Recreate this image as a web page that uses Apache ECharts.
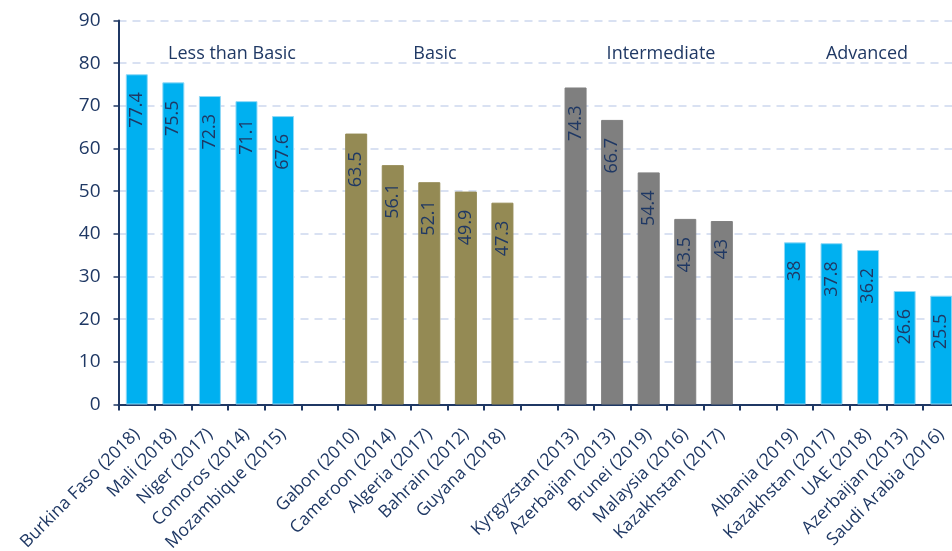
<!DOCTYPE html>
<html>
<head>
<meta charset="utf-8">
<script src="https://cdn.jsdelivr.net/npm/echarts@6/dist/echarts.min.js"></script>
<style>
  html, body { margin: 0; padding: 0; background: #ffffff; }
  #chart { width: 952px; height: 551px; }
</style>
</head>
<body>
<div id="chart"></div>
<script>
// Proficiency groups, each with five countries (survey year in brackets)
const groupNames = ['Less than Basic', 'Basic', 'Intermediate', 'Advanced'];
const lessThanBasicCountries = ['Burkina Faso (2018)', 'Mali (2018)', 'Niger (2017)', 'Comoros (2014)', 'Mozambique (2015)'];
const lessThanBasicValues = [77.4, 75.5, 72.3, 71.1, 67.6];
const basicCountries = ['Gabon (2010)', 'Cameroon (2014)', 'Algeria (2017)', 'Bahrain (2012)', 'Guyana (2018)'];
const basicValues = [63.5, 56.1, 52.1, 49.9, 47.3];
const intermediateCountries = ['Kyrgyzstan (2013)', 'Azerbaijan (2013)', 'Brunei (2019)', 'Malaysia (2016)', 'Kazakhstan (2017)'];
const intermediateValues = [74.3, 66.7, 54.4, 43.5, 43];
const advancedCountries = ['Albania (2019)', 'Kazakhstan (2017)', 'UAE (2018)', 'Azerbaijan (2013)', 'Saudi Arabia (2016)'];
const advancedValues = [38, 37.8, 36.2, 26.6, 25.5];
const yTicks = [0, 10, 20, 30, 40, 50, 60, 70, 80, 90];

const groupColors = ['#00B0F0', '#948A54', '#7F7F7F', '#00B0F0'];
const navy = '#1F3864';
const fontFamily = '"Open Sans", sans-serif';

// Flatten groups into one category axis, with an empty slot between groups
const groups = [
  [lessThanBasicCountries, lessThanBasicValues],
  [basicCountries, basicValues],
  [intermediateCountries, intermediateValues],
  [advancedCountries, advancedValues]
];
const categories = [];
const barData = [];
groups.forEach(([names, vals], gi) => {
  if (gi > 0) { categories.push(''); barData.push('-'); }
  names.forEach((n, i) => {
    categories.push(n);
    barData.push({
      value: vals[i],
      itemStyle: {
        color: groupColors[gi],
        borderColor: gi === 0 || gi === 3 ? '#8fd8f6' : groupColors[gi],
        borderWidth: 1
      }
    });
  });
});

const chart = echarts.init(document.getElementById('chart'), null, { renderer: 'canvas' });

// Group headings placed above each block of bars
const headingPos = [[232, 54], [435, 54], [661, 54], [867, 54]];
const headings = groupNames.map((name, i) => ({
  type: 'text',
  x: headingPos[i][0],
  y: headingPos[i][1],
  style: {
    text: name,
    fill: navy,
    font: '18px ' + fontFamily,
    textAlign: 'center',
    textVerticalAlign: 'middle'
  }
}));

chart.setOption({
  animation: false,
  backgroundColor: '#ffffff',
  textStyle: { fontFamily: fontFamily },
  grid: {
    left: 118.5, top: 20.5, width: 841, height: 384,
    containLabel: false,
    outerBoundsMode: 'none'
  },
  xAxis: {
    type: 'category',
    data: categories,
    boundaryGap: true,
    axisLine: { show: true, lineStyle: { color: navy, width: 2 } },
    axisTick: { show: true, length: 6, inside: false, lineStyle: { color: navy, width: 2 }, alignWithLabel: false },
    axisLabel: {
      interval: 0,
      rotate: 45,
      color: navy,
      fontSize: 17.5,
      fontFamily: fontFamily,
      margin: 27
    },
    splitLine: { show: false }
  },
  yAxis: {
    type: 'value',
    min: yTicks[0],
    max: yTicks[yTicks.length - 1],
    interval: 10,
    axisLine: { show: true, lineStyle: { color: navy, width: 2 } },
    axisTick: { show: true, length: 5, lineStyle: { color: navy, width: 1.5 } },
    axisLabel: { color: navy, fontSize: 19, fontFamily: fontFamily, margin: 18 },
    splitLine: { show: true, lineStyle: { color: '#D9E1F2', width: 2, type: [8, 6] } }
  },
  series: [{
    type: 'bar',
    data: barData,
    barWidth: 22,
    label: {
      show: true,
      position: 'insideTop',
      rotate: 90,
      align: 'right',
      verticalAlign: 'middle',
      distance: 18,
      color: navy,
      fontSize: 18,
      fontFamily: fontFamily
    }
  }],
  graphic: headings
});
</script>
</body>
</html>
